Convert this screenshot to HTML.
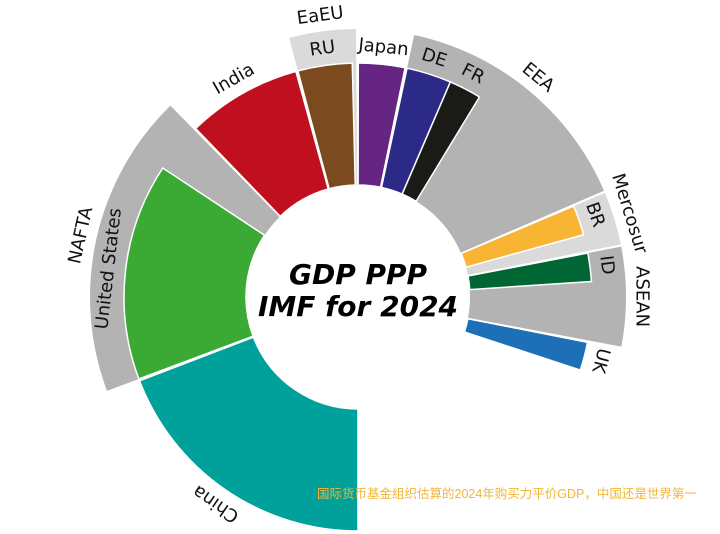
<!DOCTYPE html>
<html><head><meta charset="utf-8"><style>
html,body{margin:0;padding:0;background:#fff;}
svg{display:block;font-family:"DejaVu Sans","Liberation Sans",sans-serif;}
</style></head><body>
<svg id="chart" width="720" height="534" viewBox="0 0 720 534">
<g id="rings"></g>
<g id="labels"></g>
<text x="358" y="284" text-anchor="middle" font-size="28" font-weight="bold" font-style="italic" fill="#000">GDP PPP</text>
<text x="358" y="316" text-anchor="middle" font-size="28" font-weight="bold" font-style="italic" fill="#000">IMF for 2024</text>
<text x="317" y="498" font-size="12.5" fill="#f2b636" font-family="'Liberation Sans','Noto Sans CJK SC',sans-serif">国际货币基金组织估算的2024年购买力平价GDP，中国还是世界第一</text>
</svg>
<script>
// Top-level items in order (values in trillion $ PPP)
const itemNames = ["China","NAFTA","India","EaEU","Japan","EEA","Mercosur","ASEAN","UK"];
const itemValues = [35.3, 33.8, 14.6, 7.4, 5.9, 27.9, 5.9, 11.0, 3.6];
const itemIsGroup = [false, true, false, true, false, true, true, true, false];
const itemColors = ["#00a19a","#b3b3b3","#c0101f","#dadada","#662483","#b3b3b3","#dadada","#b3b3b3","#1d70b7"];
// Member countries of groups
const memberNames = ["United States","RU","DE","FR","BR","ID"];
const memberGroup = ["NAFTA","EaEU","EEA","EEA","Mercosur","ASEAN"];
const memberValues = [27.6, 6.9, 5.7, 4.1, 3.8, 3.6];
const memberColors = ["#3aaa35","#7b4a1e","#2b2a87","#1a1a16","#f8b534","#006633"];

const NS="http://www.w3.org/2000/svg";
const cx=358, cy=297, r0=112, r1=234, r2=268;
const startDeg=180, degPerUnit=69/35.3, gapDeg=0.5;
function ang(v){return v*degPerUnit;}
function pt(a,r){const t=a*Math.PI/180;return [cx+r*Math.sin(t), cy-r*Math.cos(t)];}
function wedge(a0,a1,ri,ro){
  const [x0,y0]=pt(a0,ro),[x1,y1]=pt(a1,ro),[x2,y2]=pt(a1,ri),[x3,y3]=pt(a0,ri);
  const lg=(a1-a0)>180?1:0;
  return `M${x0},${y0}A${ro},${ro} 0 ${lg} 1 ${x1},${y1}L${x2},${y2}A${ri},${ri} 0 ${lg} 0 ${x3},${y3}Z`;
}
const rings=document.getElementById('rings');
const labels=document.getElementById('labels');
function addPath(d,fill,name,stroke){
  const p=document.createElementNS(NS,'path');
  p.setAttribute('d',d);p.setAttribute('fill',fill);
  if(stroke){p.setAttribute('stroke','#fff');p.setAttribute('stroke-width','1.5');}
  
  
  rings.appendChild(p);
}
function addLabel(txt,a,r,name){
  const t=document.createElementNS(NS,'text');
  t.setAttribute('transform',`translate(${cx},${cy}) rotate(${a}) translate(0,${-r})`);
  t.setAttribute('text-anchor','middle');
  t.setAttribute('dominant-baseline','central');
  t.setAttribute('font-size','18');
  t.setAttribute('fill','#111');
  t.textContent=txt;
  
  
  labels.appendChild(t);
}
let a=startDeg;
itemNames.forEach((n,i)=>{
  const a0=a, a1=a+ang(itemValues[i]);
  const slug=n.toLowerCase().replace(/\s+/g,'-');
  if(itemIsGroup[i]){
    addPath(wedge(a0,a1,r0,r2),itemColors[i],'group-'+slug,false);
    addLabel(n,(a0+a1)/2,284,'group-label-'+slug);
    let b=a0;
    memberNames.forEach((m,j)=>{
      if(memberGroup[j]!==n)return;
      const b1=b+ang(memberValues[j]);
      const ms=m.toLowerCase().replace(/\s+/g,'-');
      addPath(wedge(b,b1,r0,r1),memberColors[j],'slice-'+ms,true);
      addLabel(m,(b+b1)/2,251,'label-'+ms);
      b=b1;
    });
  } else {
    addPath(wedge(a0,a1,r0,r1),itemColors[i],'slice-'+slug,true);
    addLabel(n,(a0+a1)/2,251,'label-'+slug);
  }
  a=a1+gapDeg;
});
</script>
</body></html>
